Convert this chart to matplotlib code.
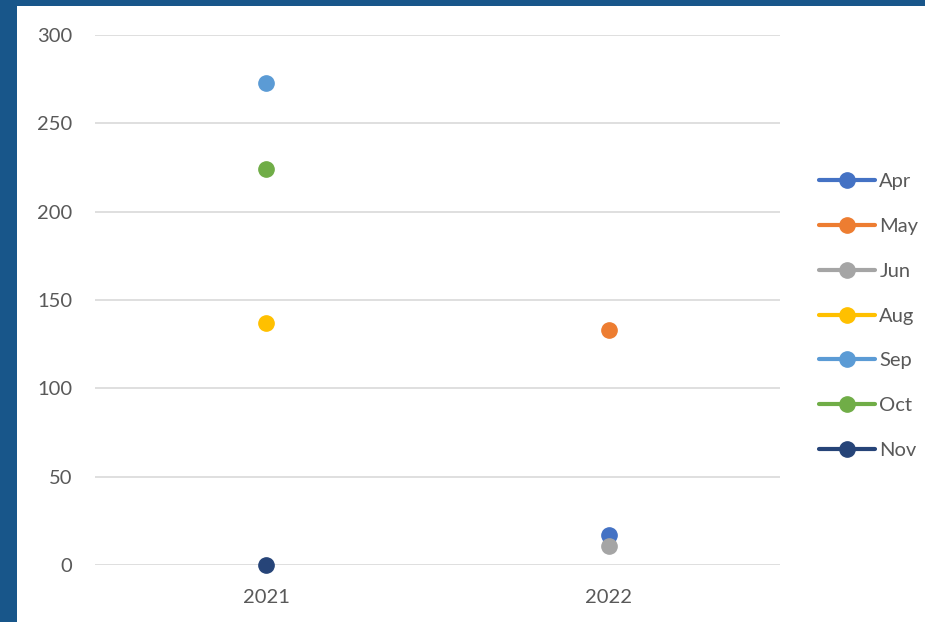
import numpy as np
import matplotlib
matplotlib.use('Agg')
import matplotlib.pyplot as plt
from matplotlib.patches import Rectangle

# Categories and series (NaN = no value that year)
years = ['2021', '2022']
months = ['Apr', 'May', 'Jun', 'Aug', 'Sep', 'Oct', 'Nov']
apr = [np.nan, 17]
may = [np.nan, 133]
jun = [np.nan, 11]
aug = [137, np.nan]
sep = [273, np.nan]
oct_ = [224, np.nan]
nov = [0, np.nan]
series = [apr, may, jun, aug, sep, oct_, nov]
colors = ['#4472C4', '#ED7D31', '#A5A5A5', '#FFC000', '#5B9BD5', '#70AD47', '#264478']
y_ticks = [0, 50, 100, 150, 200, 250, 300]

plt.rcParams['font.family'] = ['Lato', 'DejaVu Sans']

fig = plt.figure(figsize=(9.25, 6.22), dpi=100)
fig.patch.set_facecolor('white')

# dark blue frame at left and top
fig.patches.append(Rectangle((0, 0), 17 / 925, 1, transform=fig.transFigure,
                             facecolor='#18568A', edgecolor='none', zorder=0))
fig.patches.append(Rectangle((0, 1 - 6 / 622), 1, 6 / 622, transform=fig.transFigure,
                             facecolor='#18568A', edgecolor='none', zorder=0))

ax = fig.add_axes([95 / 925, 1 - 565 / 622, 685 / 925, 530 / 622])
x = np.arange(len(years))
for name, vals, c in zip(months, series, colors):
    ax.plot(x, vals, color=c, linewidth=3, marker='o', markersize=11,
            label=name, solid_capstyle='round', zorder=3)

ax.set_xlim(-0.5, 1.5)
ax.set_ylim(0, 300)
ax.set_xticks(x)
ax.set_xticklabels(years)
ax.set_yticks(y_ticks)
ax.grid(axis='y', color='#D9D9D9', linewidth=1.2)
ax.set_axisbelow(True)
for s in ax.spines.values():
    s.set_visible(False)
ax.tick_params(length=0, labelsize=14.5, labelcolor='#595959')
ax.tick_params(axis='y', pad=16.5)
ax.tick_params(axis='x', pad=17)
for line in ax.lines:
    line.set_clip_on(False)

fig.legend(loc='center left', bbox_to_anchor=(819 / 925, 1 - 316 / 622),
           frameon=False, fontsize=14.5, labelcolor='#595959',
           handlelength=2.8, handletextpad=0.2, labelspacing=1.38,
           borderpad=0, borderaxespad=0)

plt.savefig('out.png', dpi=100)
